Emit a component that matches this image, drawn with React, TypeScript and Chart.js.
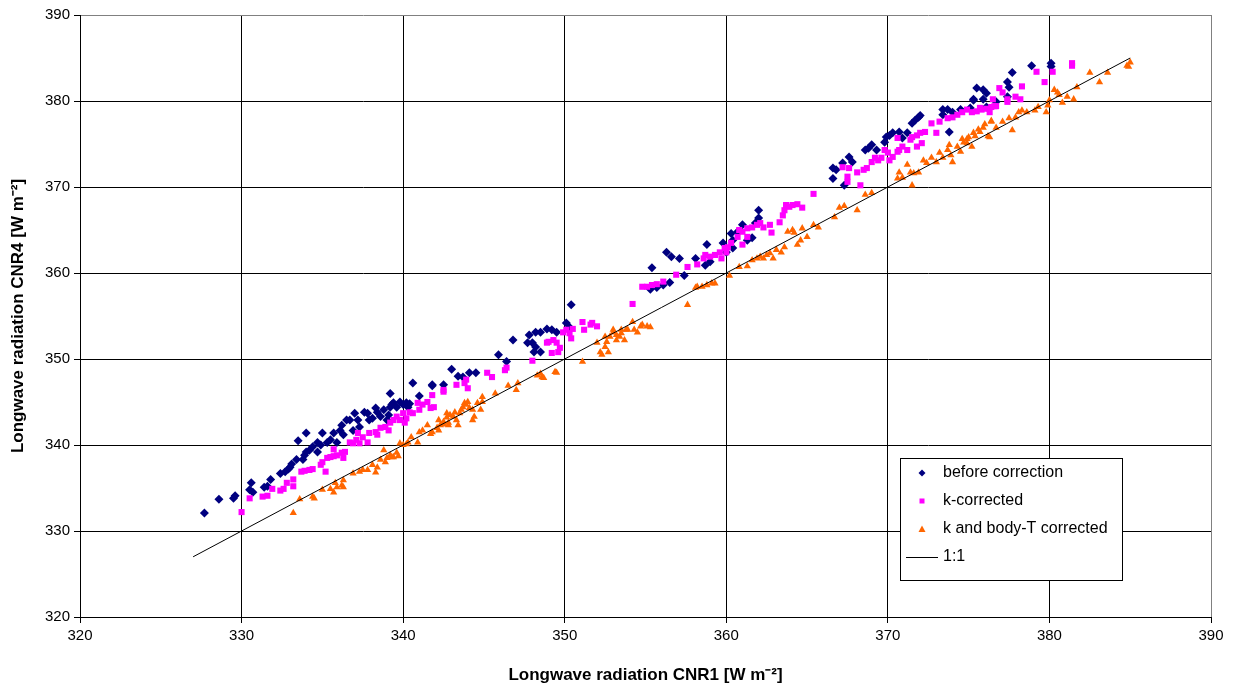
import React, { useEffect, useRef } from "react";
import { Chart, registerables } from "chart.js";

Chart.register(...registerables);

const xTicks = [320, 330, 340, 350, 360, 370, 380, 390];
const yTicks = [320, 330, 340, 350, 360, 370, 380, 390];

const seriesNames = ["before correction", "k-corrected", "k and body-T corrected", "1:1"];

const beforeCorrection: number[][] = [
  [327.7,332.1],[328.6,333.7],[329.5,333.8],[329.6,334.1],[330.6,335.6],[330.5,334.8],[330.7,334.5],[331.8,336.0],[331.6,335.2],[331.4,335.1],
  [332.4,336.7],[332.7,336.9],[333.0,337.4],[333.1,337.8],[332.9,337.2],[333.4,338.3],[333.5,340.5],[333.8,338.3],[333.9,338.8],[334.0,339.2],
  [334.2,339.4],[334.0,341.4],[334.4,339.8],[334.7,339.2],[334.9,340.0],[334.7,340.3],[335.0,341.4],[335.3,340.3],[335.5,340.6],[335.7,341.4],
  [335.9,340.3],[336.2,342.3],[336.3,341.2],[336.7,342.9],[336.9,341.7],[337.0,343.7],[337.2,342.9],[337.3,342.1],[337.8,343.7],[337.9,342.9],
  [338.4,343.8],[338.6,343.3],[338.8,344.1],[339.0,342.9],[339.2,344.4],[339.2,346.0],[339.4,344.9],[339.6,344.4],[339.8,345.0],[340.0,344.7],
  [340.2,344.9],[340.3,344.4],[340.6,347.2],[341.0,345.7],[341.8,347.0],[342.5,347.0],[341.8,346.9],[336.5,342.9],[336.1,341.7],[337.6,343.8],
  [338.1,343.1],[338.3,344.3],[339.1,343.5],[339.3,344.7],[340.4,344.8],
  [343.0,348.8],[343.4,348.0],[343.7,347.9],[344.1,348.4],[344.5,348.4],[345.9,350.5],[346.4,349.7],[346.8,352.2],[347.7,351.9],[348.0,351.9],
  [348.2,351.4],[348.1,350.8],[348.5,350.8],[347.8,352.8],[348.2,353.1],[348.5,353.1],[348.9,353.5],[349.2,353.4],[349.5,353.1],[350.1,354.2],
  [350.3,353.7],[350.4,356.3],
  [355.4,360.6],[356.3,362.4],[356.6,361.9],[357.1,361.7],[358.1,361.7],[358.8,363.3],[357.4,359.7],[356.5,358.9],[356.1,358.6],[355.7,358.3],
  [355.3,358.1],[358.7,360.9],[359.0,361.3],[359.8,363.5],[360.3,364.6],[360.4,363.8],[360.7,364.8],[361.0,365.6],[361.3,363.8],[361.6,364.1],
  [361.8,365.8],[362.0,366.4],[362.0,367.3],[360.4,362.9],[360.0,362.4],
  [366.6,371.0],[366.6,372.2],[366.8,372.0],[367.2,372.8],[367.3,370.2],[367.6,373.5],[367.8,372.9],[368.6,374.3],[368.8,374.5],[369.0,374.9],
  [369.3,374.3],[369.8,375.2],[369.9,375.8],[370.1,376.0],[370.3,376.3],[370.7,376.4],[371.2,376.3],[370.9,375.7],[371.5,377.4],[371.7,377.8],
  [371.9,378.1],[372.0,378.3],[373.4,379.0],[373.4,378.4],[373.7,379.0],[373.8,376.4],[374.0,378.7],[374.5,379.0],[375.3,380.1],[375.5,381.5],
  [375.9,381.3],[376.1,380.9],[375.3,380.2],[375.9,380.2],[376.7,379.9],[377.4,382.2],[377.5,381.6],[377.4,380.5],[377.7,383.3],[378.9,384.1],
  [380.1,384.4],[380.1,384.0],[376.1,379.3],[375.1,379.2]
];

const kCorrected: number[][] = [
  [330.0,332.2],[330.5,333.8],[331.3,334.0],[331.6,334.1],[331.9,334.9],[332.4,334.7],[332.6,334.9],[332.8,335.6],[333.2,336.0],[333.2,335.2],
  [333.7,336.9],[333.9,337.0],[334.2,337.1],[334.4,337.2],[334.9,337.7],[335.0,338.0],[335.2,336.9],[335.3,338.5],[335.5,338.6],[335.7,338.7],
  [335.9,338.8],[336.2,339.1],[336.3,338.5],[336.4,339.2],[335.7,339.5],[336.7,340.3],[336.9,340.2],[337.1,340.6],[337.3,340.2],[337.2,341.4],
  [337.5,340.9],[337.8,340.3],[337.9,341.4],[338.3,341.5],[338.4,341.2],[338.6,342.0],[338.9,342.1],[339.1,341.7],[339.2,342.6],[339.4,342.9],
  [339.6,343.3],[339.8,342.9],[340.0,343.7],[340.2,343.1],[340.4,343.8],[340.6,343.7],[340.9,344.9],[341.0,344.1],[341.2,344.7],[341.5,345.0],
  [341.7,344.3],[341.8,345.8],[341.9,344.4],[342.5,346.2],[340.1,342.6],
  [342.5,346.4],[343.3,347.0],[343.8,347.2],[343.9,347.6],[344.0,346.6],[345.2,348.4],[345.5,347.9],[346.3,348.7],[346.4,349.0],[348.0,349.8],
  [348.9,351.9],[349.0,352.0],[349.3,352.2],[349.5,351.9],[349.2,350.7],[349.6,350.8],[349.7,351.3],[349.9,353.1],[350.1,353.4],[350.3,353.0],
  [350.4,352.4],[350.5,353.5],[351.1,354.3],[351.2,353.4],[351.6,354.0],[351.7,354.2],[352.0,353.8],[354.2,356.4],
  [354.8,358.4],[355.1,358.4],[355.4,358.6],[355.7,358.7],[356.1,359.0],[356.9,359.8],[357.6,360.7],[358.2,361.0],[358.6,361.7],[358.7,362.1],
  [359.0,361.9],[359.3,362.1],[359.6,362.4],[359.7,361.7],[359.9,362.9],[360.1,363.0],[360.0,362.4],[360.3,363.5],[360.7,364.2],[360.8,365.0],
  [361.0,364.8],[361.3,365.2],[361.6,365.3],[361.9,365.6],[362.1,365.8],[362.3,365.3],[362.7,365.6],[362.8,364.7],[361.0,363.3],[361.3,364.2],
  [363.3,365.9],[363.5,366.7],[363.6,367.3],[363.7,367.9],[363.9,367.7],[364.1,367.9],[364.4,368.0],[364.7,367.6],[365.4,369.2],
  [367.2,372.3],[367.5,371.2],[367.5,370.6],[367.6,372.2],[368.3,370.2],[368.1,371.7],[368.5,372.0],[368.7,372.2],[369.0,372.9],[369.2,373.4],
  [369.4,373.1],[369.6,373.4],[369.8,374.3],[370.0,374.0],[370.1,373.1],[370.3,373.5],[370.6,374.1],[370.7,374.3],[370.9,374.7],[370.6,375.7],
  [371.2,374.3],[371.4,375.5],[371.5,375.8],[371.8,376.0],[372.0,376.3],[372.3,376.4],[371.8,374.7],[372.1,375.1],[373.0,376.3],[372.7,377.4],
  [373.2,377.6],[373.7,378.0],[374.0,378.1],[374.3,378.4],[374.6,378.7],[374.9,379.0],[375.2,378.7],[375.5,378.8],[375.8,379.0],[376.1,379.1],
  [376.4,379.3],[376.6,379.4],[375.7,379.2],[376.3,378.7],[376.5,380.2],[376.7,379.4],[376.9,381.5],[377.1,381.0],[377.4,379.9],[377.4,380.2],
  [377.9,380.5],[378.3,381.7],[378.2,380.2],[379.2,383.4],[379.7,382.2],[380.2,383.4],[381.4,384.1],[381.4,384.4]
];

const kBodyTCorrected: number[][] = [
  [333.2,332.1],[333.6,333.7],[334.4,334.0],[334.5,333.8],[335.0,334.8],[335.5,334.9],[335.7,334.5],[335.9,335.1],[335.8,335.6],[336.2,335.3],
  [336.3,335.9],[336.3,335.1],[336.9,336.7],[337.3,336.9],[337.5,337.1],[337.8,337.1],[338.1,337.7],[338.3,336.8],[338.4,337.4],[338.6,338.3],
  [338.8,339.4],[338.9,338.0],[339.0,338.5],[339.2,338.8],[339.3,338.6],[339.4,338.6],[339.6,339.1],[339.7,338.7],[339.8,340.2],[340.0,340.0],
  [340.2,340.1],[340.3,340.3],[340.5,340.9],[340.9,340.3],[341.0,341.5],[341.2,341.7],[341.5,342.3],[341.7,341.3],[342.1,342.0],[342.2,342.9],
  [342.5,342.4],[342.7,343.7],[342.8,342.3],
  [341.8,341.5],[342.2,341.7],[342.3,342.3],[342.5,342.7],[342.7,343.2],[342.8,342.6],[342.9,343.5],[343.1,343.3],[343.2,343.8],[343.3,342.9],
  [343.4,342.3],[343.5,343.7],[343.6,344.1],[343.7,344.4],[343.8,344.9],[343.9,344.7],[344.0,345.0],[344.1,344.3],[344.3,342.9],[344.3,344.1],
  [344.4,343.3],[344.6,344.9],[344.8,344.1],[344.9,345.0],[344.9,345.6],[345.7,346.0],[346.5,346.9],[347.0,346.4],[347.1,347.2],[348.5,348.3],
  [348.6,347.9],[349.5,348.4],
  [348.3,348.1],[348.7,347.8],[349.4,348.5],[351.1,349.7],[352.0,351.9],[352.2,350.8],[352.3,350.5],[352.5,351.4],[352.6,352.0],[352.7,350.8],
  [352.8,352.6],[353.0,353.1],[353.2,352.2],[353.4,352.6],[353.5,353.4],[353.7,352.2],[353.9,353.4],[354.2,354.3],[354.3,353.4],[354.5,353.1],
  [352.5,352.6],[353.0,353.4],[353.2,352.8],[353.5,353.0],[353.8,353.4],[354.7,353.8],[354.8,354.0],[355.1,353.8],[355.3,353.7],
  [357.6,356.3],[358.1,358.3],[358.2,358.4],[358.5,358.4],[358.8,358.6],[359.1,358.8],[359.3,358.8],
  [360.2,359.7],[360.8,360.7],[361.3,360.8],[361.6,361.5],[361.9,361.7],[362.1,361.9],[362.3,361.7],[362.5,362.1],[362.7,362.3],[362.9,361.7],
  [363.1,362.7],[363.4,362.4],[363.6,363.0],[363.8,364.8],[364.1,365.0],[364.2,364.7],[364.4,363.3],[364.6,363.8],[364.7,365.2],[365.0,364.2],
  [365.4,365.6],[365.7,365.3],
  [366.7,366.5],[367.0,367.6],[367.3,367.8],[368.1,367.3],[368.6,369.1],[369.0,369.3],
  [370.6,371.0],[370.7,371.7],[370.9,371.1],[371.2,372.6],[371.4,371.7],[371.5,370.2],[371.6,371.6],[371.9,371.7],[372.2,373.1],[372.4,372.8],
  [372.7,373.4],[373.0,372.9],[373.2,374.0],[373.4,373.4],[373.7,374.3],[373.8,374.9],[373.9,373.7],[374.0,372.9],[374.3,374.7],[374.5,374.1],
  [374.7,375.2],[374.9,375.6],[375.0,375.8],[375.2,374.7],[375.4,375.9],[375.7,376.4],[376.0,377.3],[376.2,375.9],[376.4,377.7],
  [374.6,375.6],[374.9,375.1],[375.3,376.3],[375.6,376.7],[375.9,376.9],[376.3,375.8],[376.4,377.6],[376.7,376.9],[377.1,377.6],[377.5,378.0],
  [377.7,376.6],[377.9,378.1],[378.1,378.7],[378.3,378.9],[378.6,378.7],[379.1,378.9],[379.3,379.3],[379.8,378.7],[379.9,379.5],[380.0,380.1],
  [380.3,381.3],[380.5,381.0],[380.6,380.7],[380.8,379.8],[381.1,380.5],[381.5,380.2],[381.7,381.6],[382.5,383.3],[383.1,382.2],[383.6,383.3],
  [384.8,384.1],[384.9,384.0],[385.0,384.5]
];

const oneToOne: number[][] = [[327, 327], [385, 385]];

const FONT = "'Liberation Sans', Arial, sans-serif";

const legendPlugin = {
  id: "boxLegend",
  afterDraw(chart: any) {
    const ctx = chart.ctx as CanvasRenderingContext2D;
    const left = 900, top = 458, right = 1122, bottom = 580;
    ctx.save();
    ctx.fillStyle = "#ffffff";
    ctx.fillRect(left, top, right - left, bottom - top);
    ctx.strokeStyle = "#000000";
    ctx.lineWidth = 1;
    ctx.strokeRect(left + 0.5, top + 0.5, right - left, bottom - top);
    const rows = [473, 501, 529, 557];
    const mx = 922;
    ctx.font = `16px ${FONT}`;
    ctx.textBaseline = "middle";
    ctx.textAlign = "left";
    chart.data.datasets.forEach((ds: any, i: number) => {
      const y = rows[i];
      ctx.fillStyle = ds.backgroundColor;
      ctx.strokeStyle = ds.borderColor;
      if (i === 0) {
        ctx.beginPath();
        ctx.moveTo(mx, y - 3.5);
        ctx.lineTo(mx + 3.5, y);
        ctx.lineTo(mx, y + 3.5);
        ctx.lineTo(mx - 3.5, y);
        ctx.closePath();
        ctx.fill();
      } else if (i === 1) {
        ctx.fillRect(mx - 2.5, y - 2.5, 5, 5);
      } else if (i === 2) {
        ctx.beginPath();
        ctx.moveTo(mx, y - 3.5);
        ctx.lineTo(mx + 3.5, y + 3);
        ctx.lineTo(mx - 3.5, y + 3);
        ctx.closePath();
        ctx.fill();
      } else {
        ctx.beginPath();
        ctx.moveTo(906, y + 0.5);
        ctx.lineTo(938, y + 0.5);
        ctx.strokeStyle = "#000";
        ctx.lineWidth = 1;
        ctx.stroke();
      }
      ctx.fillStyle = "#000";
      ctx.fillText(ds.label, 943, y);
    });
    ctx.restore();
  },
};

export default function App() {
  const canvasRef = useRef<HTMLCanvasElement | null>(null);

  useEffect(() => {
    document.body.style.margin = "0";
    const canvas = canvasRef.current;
    if (!canvas) return;
    const toPts = (arr: number[][]) => arr.map(([x, y]) => ({ x, y }));
    const gridColor = (ctx: any) => (ctx.tick && ctx.tick.value === 390 ? "#808080" : "#000000");
    const chart = new Chart(canvas, {
      type: "scatter",
      data: {
        datasets: [
          {
            label: seriesNames[0],
            data: toPts(beforeCorrection),
            backgroundColor: "#000080",
            borderColor: "#000080",
            pointStyle: "rectRot",
            pointRadius: 4.5,
            borderWidth: 0,
            order: 4,
          },
          {
            label: seriesNames[1],
            data: toPts(kCorrected),
            backgroundColor: "#FF00FF",
            borderColor: "#FF00FF",
            pointStyle: "rect",
            pointRadius: 4.3,
            borderWidth: 0,
            order: 3,
          },
          {
            label: seriesNames[2],
            data: toPts(kBodyTCorrected),
            backgroundColor: "#FF6600",
            borderColor: "#FF6600",
            pointStyle: "triangle",
            pointRadius: 4.2,
            borderWidth: 0,
            order: 2,
          },
          {
            label: seriesNames[3],
            data: toPts(oneToOne),
            type: "line",
            showLine: true,
            backgroundColor: "#000000",
            borderColor: "#000000",
            borderWidth: 1,
            pointRadius: 0,
            order: 1,
          } as any,
        ],
      },
      options: {
        responsive: false,
        animation: false,
        events: [],
        layout: { padding: { left: 0, top: 15, right: 25, bottom: 0 } },
        plugins: { legend: { display: false }, tooltip: { enabled: false } },
        scales: {
          x: {
            type: "linear",
            min: 320,
            max: 390,
            afterFit: (s: any) => { s.height = 71; },
            afterBuildTicks: (s: any) => { s.ticks = xTicks.map((v) => ({ value: v })); },
            ticks: { color: "#000", font: { family: FONT, size: 15 }, padding: 4, maxRotation: 0 },
            grid: { color: gridColor, lineWidth: 1, tickLength: 6, tickColor: "#000" },
            border: { display: true, color: "#000", width: 1 },
            title: {
              display: true,
              text: "Longwave radiation CNR1 [W m\u207B\u00B2]",
              color: "#000",
              font: { family: FONT, size: 17, weight: "bold" },
              padding: { top: 0, bottom: 2 },
            },
          },
          y: {
            type: "linear",
            min: 320,
            max: 390,
            afterFit: (s: any) => { s.width = 80; },
            afterBuildTicks: (s: any) => { s.ticks = yTicks.map((v) => ({ value: v })); },
            ticks: { color: "#000", font: { family: FONT, size: 15 }, padding: 4 },
            grid: { color: gridColor, lineWidth: 1, tickLength: 6, tickColor: "#000" },
            border: { display: true, color: "#000", width: 1 },
            title: {
              display: true,
              text: "Longwave radiation CNR4 [W m\u207B\u00B2]",
              color: "#000",
              font: { family: FONT, size: 17, weight: "bold" },
              padding: { top: 8, bottom: 0 },
            },
          },
        },
      },
      plugins: [legendPlugin],
    });
    return () => chart.destroy();
  }, []);

  return (
    <div style={{ width: 1236, height: 688, background: "#fff" }}>
      <canvas ref={canvasRef} width={1236} height={688} style={{ display: "block" }} />
    </div>
  );
}
